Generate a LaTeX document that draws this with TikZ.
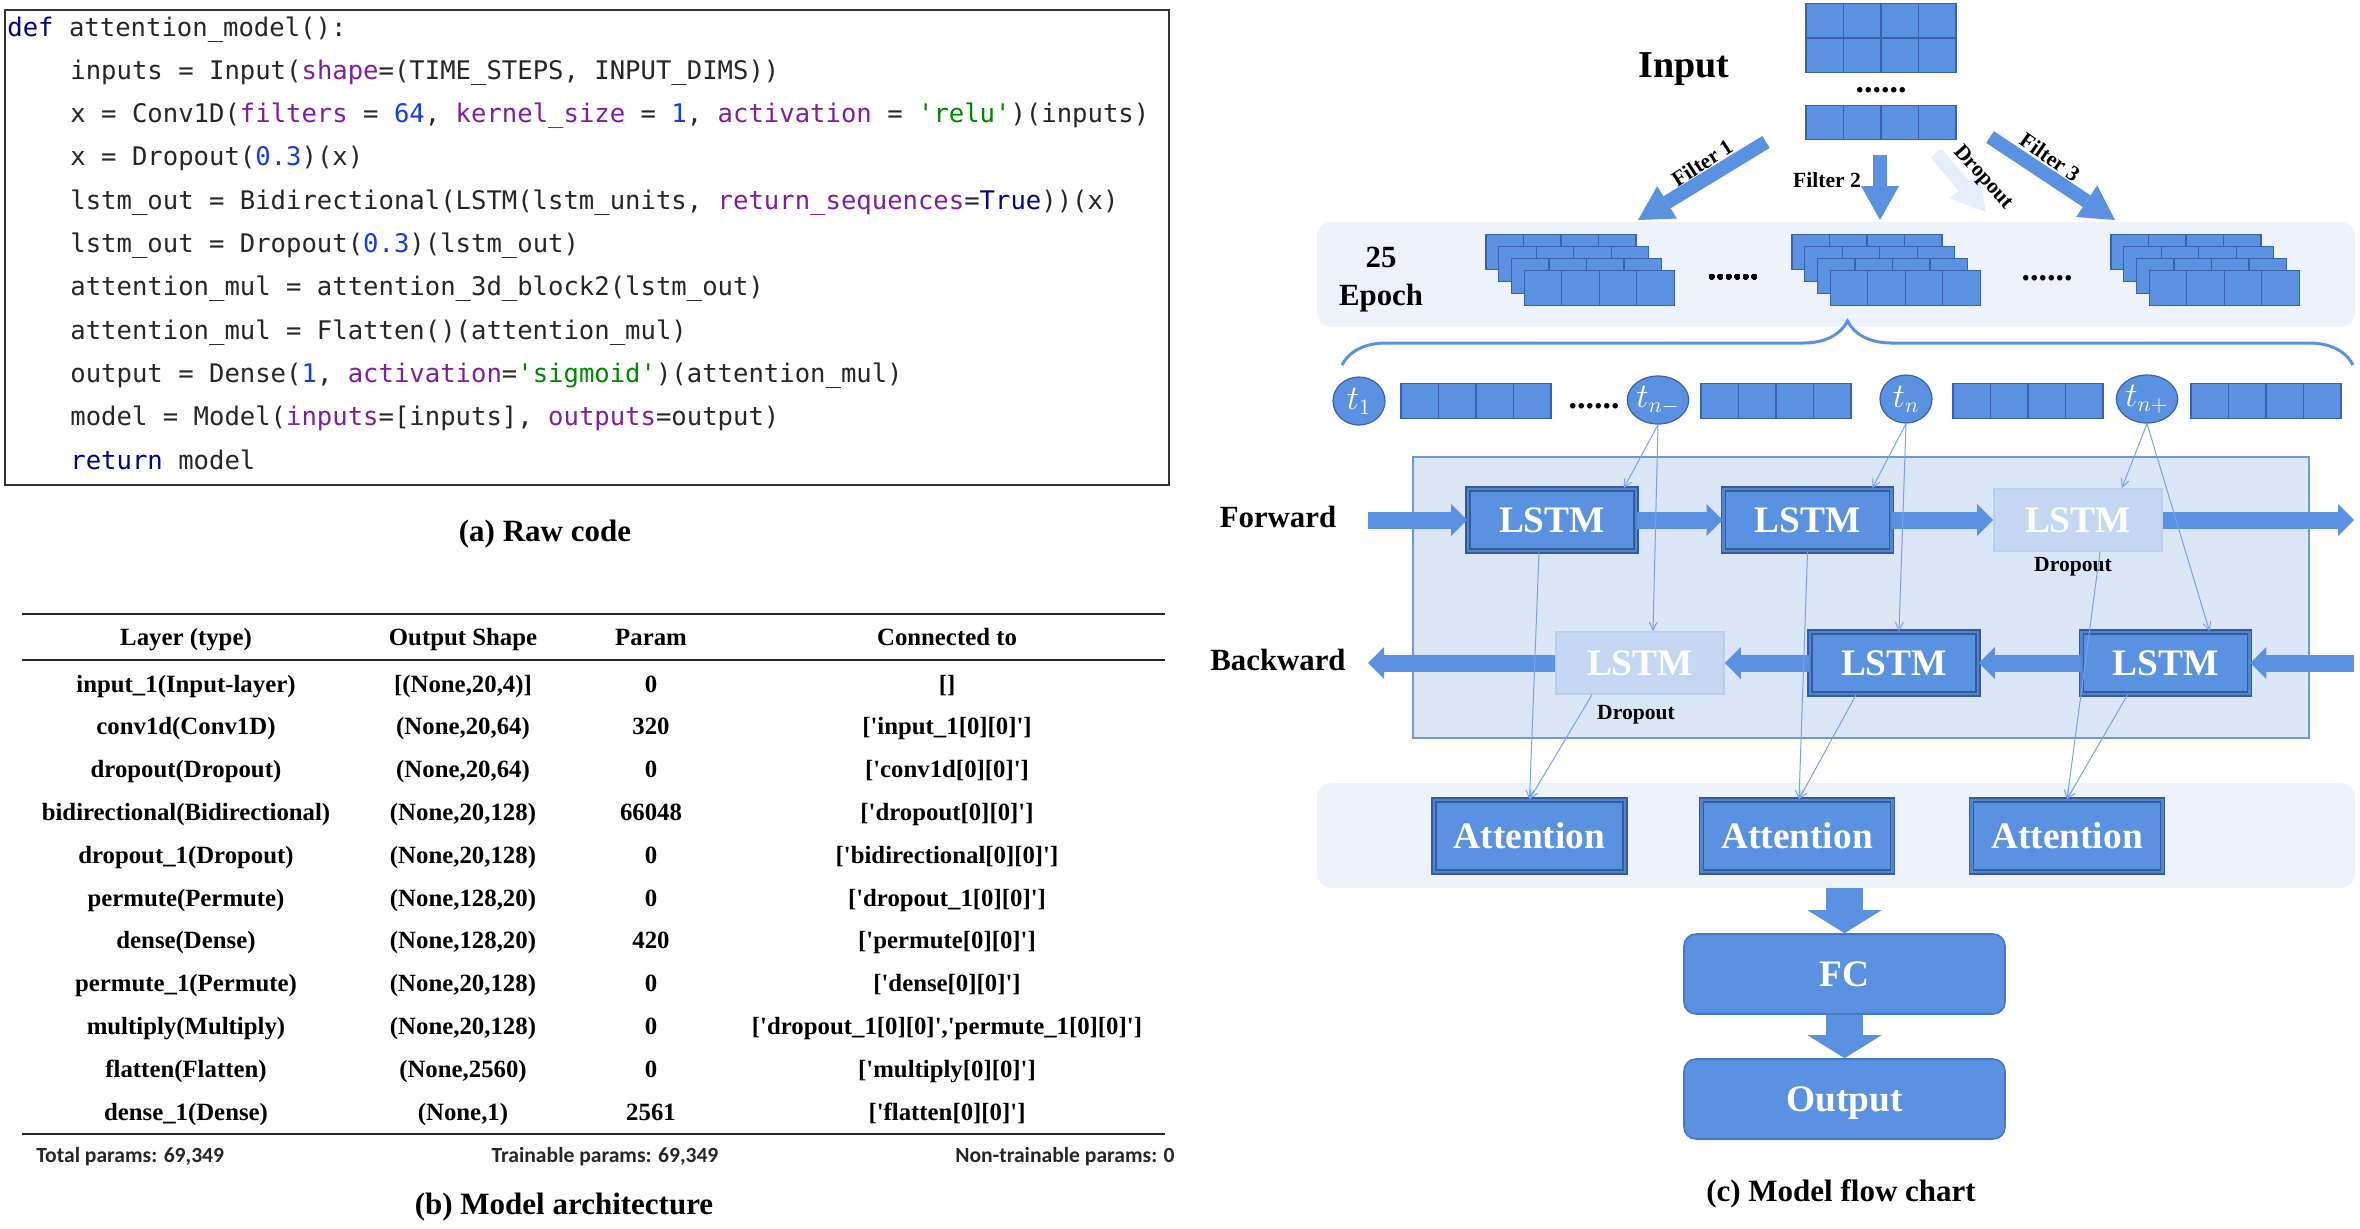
\documentclass[tikz,border=0pt]{standalone}
\usepackage{fontspec}
\setmainfont{Liberation Serif}
\setsansfont{Carlito}
\newfontfamily\codefont{DejaVu Sans Mono}
\usetikzlibrary{arrows.meta, positioning, shapes.geometric, decorations.pathreplacing, calc}

\definecolor{CellBlue}{RGB}{91,145,225}
\definecolor{GridBlue}{RGB}{58,98,172}
\definecolor{EdgeBlue}{RGB}{52,90,160}
\definecolor{BevelBlue}{RGB}{84,132,208}
\definecolor{PaleBlue}{RGB}{197,216,243}
\definecolor{PaleEdge}{RGB}{186,207,240}
\definecolor{BoxBlue}{RGB}{219,230,247}
\definecolor{BoxEdge}{RGB}{112,152,216}
\definecolor{BandBlue}{RGB}{238,243,251}
\definecolor{ThinBlue}{RGB}{120,163,230}
\definecolor{DropBlue}{RGB}{230,238,251}
\definecolor{FcEdge}{RGB}{70,120,200}
\definecolor{CodeNavy}{RGB}{0,0,140}
\definecolor{CodePurple}{RGB}{128,30,160}
\definecolor{CodeNum}{RGB}{20,60,230}
\definecolor{CodeStr}{RGB}{0,135,0}

\newcommand{\kw}[1]{\textcolor{CodePurple}{#1}}
\newcommand{\nm}[1]{\textcolor{CodeNum}{#1}}
\newcommand{\str}[1]{\textcolor{CodeStr}{#1}}
\newcommand{\sq}{\textquotesingle}
% row of four cells: name, left edge, centre y
\newcommand{\cellbar}[3]{%
  \foreach \k in {0,...,3}
    \node[cell] (#1-\k) at ({#2+18.75+37.5*\k},{#3}) {};}

\begin{document}
\begin{tikzpicture}[x=0.5pt, y=-0.5pt,
    cell/.style={draw=GridBlue, fill=CellBlue, line width=0.6pt, minimum width=18.75pt, minimum height=17.25pt, inner sep=0pt},
    band/.style={fill=BandBlue, rounded corners=7pt, inner sep=0pt, minimum width=519pt, minimum height=52.5pt},
    lstm/.style={fill=CellBlue, draw=EdgeBlue, double=BevelBlue, double distance=1.2pt, line width=0.8pt, text=white, font=\bfseries\fontsize{18.7}{20}\selectfont, minimum width=84pt, minimum height=31pt, inner sep=0pt},
    palelstm/.style={fill=PaleBlue, draw=PaleEdge, line width=0.8pt, text=white, font=\bfseries\fontsize{18.7}{20}\selectfont, minimum width=84pt, minimum height=31pt, inner sep=0pt},
    attn/.style={lstm, minimum width=95.5pt, minimum height=36pt},
    fcbox/.style={fill=CellBlue, draw=FcEdge, line width=0.8pt, rounded corners=6pt, text=white, font=\bfseries\fontsize{18.7}{20}\selectfont, minimum width=160.5pt, minimum height=40pt, text depth=0pt},
    tnode/.style={ellipse, fill=CellBlue, draw=GridBlue, line width=0.6pt, minimum width=26pt, minimum height=24pt, inner sep=0pt, text=white, font=\fontsize{16}{18}\selectfont},
    flow/.style={CellBlue, line width=8.5pt, -{Triangle[length=8pt, width=16pt, line width=0pt]}},
    filt/.style={CellBlue, line width=7pt, -{Triangle[length=17pt, width=19pt, line width=0pt]}},
    down/.style={CellBlue, line width=18.5pt, -{Triangle[length=11.5pt, width=37pt, line width=0pt]}},
    thin/.style={ThinBlue, line width=0.5pt, -{Straight Barb[length=4pt, width=4pt]}},
    lab/.style={font=\bfseries\fontsize{15.4}{18}\selectfont, inner sep=0pt},
    small/.style={font=\bfseries\fontsize{10.8}{12}\selectfont, inner sep=0pt},
    dots/.style={font=\bfseries\fontsize{17}{18}\selectfont, inner sep=0pt, anchor=base},
    code/.style={font=\codefont\fontsize{12.8}{15}\selectfont, text=black!85, inner sep=0pt, anchor=base west},
    tab/.style={font=\bfseries\fontsize{12.4}{14}\selectfont, text height=8.5pt, text depth=2.5pt, inner sep=0pt},
    foot/.style={font=\sffamily\bfseries\fontsize{10.8}{12}\selectfont, text=black!85, inner sep=0pt},
    tabline/.style={line width=1.2pt, black!85}
  ]
  \useasboundingbox (0,0) rectangle (2360,1228);

  % (a) code
  \node (codebox) [draw=black!80, line width=1pt, minimum width=582pt, minimum height=237.5pt] at (587,247.5) {};
  \node[code] (code1) at (7,36) {\textcolor{CodeNavy}{def} attention\_model():};
  \node[code] (code2) at (70,79.3) {inputs = Input(\kw{shape}=(TIME\_STEPS, INPUT\_DIMS))};
  \node[code] (code3) at (70,122.6) {x = Conv1D(\kw{filters} = \nm{64}, \kw{kernel\_size} = \nm{1}, \kw{activation} = \str{'relu'})(inputs)};
  \node[code] (code4) at (70,165.9) {x = Dropout(\nm{0.3})(x)};
  \node[code] (code5) at (70,209.2) {lstm\_out = Bidirectional(LSTM(lstm\_units, \kw{return\_sequences}=\textcolor{CodeNavy}{True}))(x)};
  \node[code] (code6) at (70,252.5) {lstm\_out = Dropout(\nm{0.3})(lstm\_out)};
  \node[code] (code7) at (70,295.8) {attention\_mul = attention\_3d\_block2(lstm\_out)};
  \node[code] (code8) at (70,339.1) {attention\_mul = Flatten()(attention\_mul)};
  \node[code] (code9) at (70,382.4) {output = Dense(\nm{1}, \kw{activation}=\str{'sigmoid'})(attention\_mul)};
  \node[code] (code10) at (70,425.7) {model = Model(\kw{inputs}=[inputs], \kw{outputs}=output)};
  \node[code] (code11) at (70,469) {\textcolor{CodeNavy}{return} model};
  \node[lab, font=\bfseries\fontsize{15.5}{18}\selectfont, anchor=base] (capa) at (545,541) {(a) Raw code};

  % (b) table
  \draw[tabline] (22,614) -- (1165,614);
  \draw[tabline] (22,660) -- (1165,660);
  \draw[tabline] (22,1134) -- (1165,1134);
  \node[tab] (hlayer) at (186,639) {Layer (type)};
  \node[tab] (hshape) at (463,639) {Output Shape};
  \node[tab] (hparam) at (651,639) {Param};
  \node[tab] (hconn) at (947,639) {Connected to};
  \foreach \lay/\shp/\pa/\con [count=\r from 0] in {
      input\_1(Input-layer)/{[(None,20,4)]}/0/{[]},
      conv1d(Conv1D)/{(None,20,64)}/320/{[\sq input\_1[0][0]\sq]},
      dropout(Dropout)/{(None,20,64)}/0/{[\sq conv1d[0][0]\sq]},
      bidirectional(Bidirectional)/{(None,20,128)}/66048/{[\sq dropout[0][0]\sq]},
      dropout\_1(Dropout)/{(None,20,128)}/0/{[\sq bidirectional[0][0]\sq]},
      permute(Permute)/{(None,128,20)}/0/{[\sq dropout\_1[0][0]\sq]},
      dense(Dense)/{(None,128,20)}/420/{[\sq permute[0][0]\sq]},
      permute\_1(Permute)/{(None,20,128)}/0/{[\sq dense[0][0]\sq]},
      multiply(Multiply)/{(None,20,128)}/0/{[\sq dropout\_1[0][0]\sq,\sq permute\_1[0][0]\sq]},
      flatten(Flatten)/{(None,2560)}/0/{[\sq multiply[0][0]\sq]},
      dense\_1(Dense)/{(None,1)}/2561/{[\sq flatten[0][0]\sq]}} {
    \node[tab] (lay\r) at (186,{686+42.8*\r}) {\lay};
    \node[tab] (shp\r) at (463,{686+42.8*\r}) {\shp};
    \node[tab] (par\r) at (651,{686+42.8*\r}) {\pa};
    \node[tab] (con\r) at (947,{686+42.8*\r}) {\con};
  }
  \node[foot, anchor=west] (total) at (36,1157) {Total params: 69,349};
  \node[foot] (train) at (605,1157) {Trainable params: 69,349};
  \node[foot, anchor=east] (nontrain) at (1175,1157) {Non-trainable params: 0};
  \node[lab, font=\bfseries\fontsize{15.5}{18}\selectfont, anchor=base] (capb) at (564,1214) {(b) Model architecture};

  % (c) flow chart: input
  \node[lab, font=\bfseries\fontsize{19}{22}\selectfont, anchor=base] (inputlab) at (1684,77) {Input};
  \cellbar{in1}{1806}{20.5}
  \cellbar{in2}{1806}{55.5}
  \cellbar{in3}{1806}{122.5}
  \node[dots] (dots0) at (1881,92) {......};

  % bands
  \node[band] (epochband) at (1836,274.5) {};
  \node[band] (attband) at (1836,835.5) {};
  \node[lab, anchor=base] (num) at (1381,267) {25};
  \node[lab, anchor=base] (epoch) at (1381,305) {Epoch};

  % filter arrows
  \coordinate (fa1) at (1766,142); \coordinate (fb1) at (1638,220);
  \coordinate (fa2) at (1880,155); \coordinate (fb2) at (1880,220);
  \coordinate (fa3) at (1936,153); \coordinate (fb3) at (1986,212);
  \coordinate (fa4) at (1990,137); \coordinate (fb4) at (2115,220);
  \draw[filt] (fa1) -- (fb1);
  \draw[filt] (fa2) -- (fb2);
  \draw[filt, DropBlue] (fa3) -- (fb3);
  \draw[filt] (fa4) -- (fb4);
  \node[small, rotate=33] (filt1) at (1702,163) {Filter 1};
  \node[small, anchor=base] (filt2) at (1827,187) {Filter 2};
  \node[small, rotate=-48] (drop0) at (1983,178) {Dropout};
  \node[small, rotate=-35] (filt3) at (2050,157) {Filter 3};

  % stacks of feature maps
  \foreach \s/\sx in {1/1486, 2/1792, 3/2111}
    \foreach \j in {0,...,3}
      \cellbar{s\s-\j}{\sx+12.7*\j}{252+12*\j}
  \node[dots] (dots1) at (1733,279) {......};
  \node[dots] (dots2) at (2047,280) {......};

  % brace
  \coordinate (braceL) at (1342,365);
  \coordinate (braceR) at (2353,365);
  \draw[CellBlue, line width=1.5pt, decorate, decoration={brace, amplitude=22pt}] (braceL) -- (braceR);

  % time steps
  \node[tnode] (t1) at (1359,401) {$t_1$};
  \cellbar{bar1}{1401}{401}
  \node[dots] (dots3) at (1594,408) {......};
  \node[tnode] (tnm) at (1658,400) {$t_{n-}$};
  \cellbar{bar2}{1701}{401}
  \node[tnode] (tn) at (1906,399) {$t_n$};
  \cellbar{bar3}{1953}{401}
  \node[tnode] (tnp) at (2147,399) {$t_{n+}$};
  \cellbar{bar4}{2191}{401}

  % bidirectional LSTM
  \node (lstmbox) [fill=BoxBlue, draw=BoxEdge, line width=1pt, minimum width=448pt, minimum height=140.5pt, inner sep=0pt] at (1861,597.5) {};
  \node[lab, anchor=base] (fwd) at (1278,527) {Forward};
  \node[lab, anchor=base] (bwd) at (1278,670) {Backward};
  \node[lstm] (f1) at (1552,520) {LSTM};
  \node[lstm] (f2) at (1807.5,520) {LSTM};
  \node[palelstm] (f3) at (2078,520) {LSTM};
  \node[small, anchor=base] (drop1) at (2073,571) {Dropout};
  \node[palelstm] (b1) at (1640,663) {LSTM};
  \node[lstm] (b2) at (1894,663) {LSTM};
  \node[lstm] (b3) at (2165.5,663) {LSTM};
  \node[small, anchor=base] (drop2) at (1636,719) {Dropout};

  \coordinate (fin) at (1368,520);
  \coordinate (fout) at (2354,520);
  \coordinate (bin) at (2354,663);
  \coordinate (bout) at (1368,663);
  \draw[flow] (fin) -- (f1.west);
  \draw[flow] (f1.east) -- (f2.west);
  \draw[flow] (f2.east) -- (f3.west);
  \draw[flow] (f3.east) -- (fout);
  \draw[flow] (bin) -- (b3.east);
  \draw[flow] (b3.west) -- (b2.east);
  \draw[flow] (b2.west) -- (b1.east);
  \draw[flow] (b1.west) -- (bout);

  % attention, FC, output
  \node[attn] (a1) at (1529.5,836) {Attention};
  \node[attn] (a2) at (1797,836) {Attention};
  \node[attn] (a3) at (2067,836) {Attention};
  \node[fcbox] (fc) at (1844.5,974) {FC};
  \node[fcbox] (out) at (1844.5,1099) {Output};
  \draw[down] (attband.south -| fc) -- (fc.north);
  \draw[down] (fc.south) -- (out.north);
  \node[lab, font=\bfseries\fontsize{15.5}{18}\selectfont, anchor=base] (capc) at (1841,1201) {(c) Model flow chart};

  % thin links
  \draw[thin] (tnm.south) -- ([xshift=-6.5pt]f1.north east);
  \draw[thin] (tnm.south) -- ([xshift=6.5pt]b1.north);
  \draw[thin] (tn.south) -- ([xshift=-10pt]f2.north east);
  \draw[thin] (tn.south) -- ([xshift=2.5pt]b2.north);
  \draw[thin] (tnp.south) -- ([xshift=-20.5pt]f3.north east);
  \draw[thin] (tnp.south) -- ([xshift=22pt]b3.north);
  \draw[thin] ([xshift=-6.5pt]f1.south) -- (a1.north);
  \draw[thin] ([xshift=-24pt]b1.south) -- (a1.north);
  \draw[thin] (f2.south) -- ([xshift=1pt]a2.north);
  \draw[thin] ([xshift=-19pt]b2.south) -- ([xshift=1pt]a2.north);
  \draw[thin] ([xshift=11pt]f3.south) -- (a3.north);
  \draw[thin] ([xshift=-19pt]b3.south) -- (a3.north);
\end{tikzpicture}
\end{document}
